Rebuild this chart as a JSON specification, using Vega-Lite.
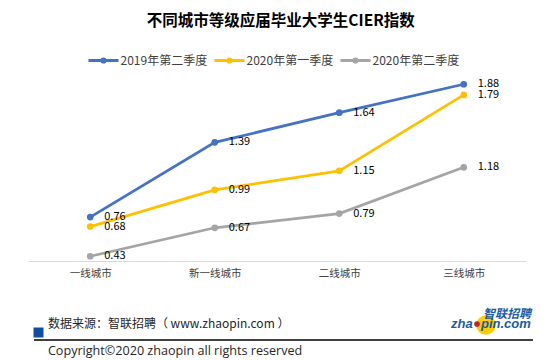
{
  "$schema": "https://vega.github.io/schema/vega-lite/v6.json",
  "padding": {"left": 28, "top": 13, "right": 0, "bottom": 0},
  "autosize": {"type": "pad"},
  "background": "white",
  "title": {"text": "不同城市等级应届毕业大学生CIER指数", "fontSize": 15.5, "font": "Noto Sans CJK SC", "fontWeight": "bold", "color": "#000000", "anchor": "middle", "offset": 25},
  "config": {"view": {"stroke": null}},
  "bounds": "flush",
  "spacing": 44,
  "vconcat": [
    {
      "width": 498,
      "height": 191,
      "data": {"values": [
        {"city": "一线城市", "series": "2019年第二季度", "value": 0.76},
        {"city": "新一线城市", "series": "2019年第二季度", "value": 1.39},
        {"city": "二线城市", "series": "2019年第二季度", "value": 1.64},
        {"city": "三线城市", "series": "2019年第二季度", "value": 1.88},
        {"city": "一线城市", "series": "2020年第一季度", "value": 0.68},
        {"city": "新一线城市", "series": "2020年第一季度", "value": 0.99},
        {"city": "二线城市", "series": "2020年第一季度", "value": 1.15},
        {"city": "三线城市", "series": "2020年第一季度", "value": 1.79},
        {"city": "一线城市", "series": "2020年第二季度", "value": 0.43},
        {"city": "新一线城市", "series": "2020年第二季度", "value": 0.67},
        {"city": "二线城市", "series": "2020年第二季度", "value": 0.79},
        {"city": "三线城市", "series": "2020年第二季度", "value": 1.18}
      ]},
      "encoding": {
        "x": {"field": "city", "type": "ordinal", "sort": ["一线城市", "新一线城市", "二线城市", "三线城市"],
              "scale": {"type": "point", "padding": 0.5},
              "axis": {"title": null, "labelAngle": 0, "ticks": false, "domainColor": "#D9D9D9", "domainWidth": 1, "labelFont": "Noto Sans CJK SC", "labelFontSize": 10.5, "labelColor": "#404040", "labelPadding": 7, "grid": false}},
        "y": {"field": "value", "type": "quantitative", "scale": {"domain": [0.39, 2.0], "zero": false, "nice": false}, "axis": null},
        "color": {"field": "series", "type": "nominal",
                  "scale": {"domain": ["2019年第二季度", "2020年第一季度", "2020年第二季度"], "range": ["#4472C4", "#FFC000", "#A5A5A5"]},
                  "legend": {"title": null, "orient": "none", "legendX": 69, "legendY": -16, "direction": "horizontal", "gridAlign": "none",
                             "symbolType": "M-3,0L3,0M-0.32,0A0.32,0.32,0,1,1,0.32,0A0.32,0.32,0,1,1,-0.32,0",
                             "symbolSize": 100, "symbolStrokeWidth": 3, "labelFontSize": 12, "labelFont": "Noto Sans CJK SC",
                             "labelColor": "#404040", "labelOffset": 10.5, "columnPadding": 0}}
      },
      "layer": [
        {"mark": {"type": "line", "strokeWidth": 2.75}},
        {"mark": {"type": "point", "filled": true, "size": 45, "opacity": 1}},
        {"mark": {"type": "text", "align": "left", "baseline": "middle", "dx": 14, "fontSize": 11, "font": "Noto Sans CJK SC"},
         "encoding": {"text": {"field": "value", "type": "quantitative", "format": ".2f"}, "color": {"value": "#000000"}}}
      ]
    },
    {
      "width": 498,
      "height": 55,
      "layer": [
        {"data": {"values": [{"item": "square"}]},
         "mark": {"type": "point", "shape": "square", "filled": true, "size": 100, "color": "#0B4EA2", "opacity": 1},
         "encoding": {"x": {"datum": 2.11, "type": "quantitative", "scale": {"domain": [0, 100], "nice": false, "zero": false}, "axis": null},
                      "y": {"datum": 5.0, "type": "quantitative", "scale": {"domain": [0, 10], "nice": false, "zero": false}, "axis": null}}},
        {"data": {"values": [{"label": "数据来源：智联招聘（ www.zhaopin.com ）"}]},
         "mark": {"type": "text", "align": "left", "baseline": "middle", "fontSize": 12, "font": "Noto Sans CJK SC", "color": "#262626"},
         "encoding": {"x": {"datum": 4.0, "type": "quantitative", "scale": {"domain": [0, 100], "nice": false, "zero": false}, "axis": null},
                      "y": {"datum": 6.55, "type": "quantitative", "scale": {"domain": [0, 10], "nice": false, "zero": false}, "axis": null},
                      "text": {"field": "label"}}},
        {"data": {"values": [{"item": "rule"}]},
         "mark": {"type": "rule", "color": "#000000", "strokeWidth": 1.3},
         "encoding": {"x": {"datum": 1.2, "type": "quantitative", "scale": {"domain": [0, 100], "nice": false, "zero": false}, "axis": null},
                      "x2": {"datum": 101.4},
                      "y": {"datum": 3.64, "type": "quantitative", "scale": {"domain": [0, 10], "nice": false, "zero": false}, "axis": null}}},
        {"data": {"values": [{"label": "Copyright©2020 zhaopin all rights reserved"}]},
         "mark": {"type": "text", "align": "left", "baseline": "middle", "fontSize": 12.6, "font": "Open Sans", "color": "#262626"},
         "encoding": {"x": {"datum": 4.0, "type": "quantitative", "scale": {"domain": [0, 100], "nice": false, "zero": false}, "axis": null},
                      "y": {"datum": 1.64, "type": "quantitative", "scale": {"domain": [0, 10], "nice": false, "zero": false}, "axis": null},
                      "text": {"field": "label"}}},
        {"data": {"values": [{"item": "logo circle"}]},
         "mark": {"type": "point", "shape": "circle", "filled": true, "size": 380, "color": "#FFCC00", "opacity": 1},
         "encoding": {"x": {"datum": 91.97, "type": "quantitative", "scale": {"domain": [0, 100], "nice": false, "zero": false}, "axis": null},
                      "y": {"datum": 6.36, "type": "quantitative", "scale": {"domain": [0, 10], "nice": false, "zero": false}, "axis": null}}},
        {"data": {"values": [{"label": "zha"}]},
         "mark": {"type": "text", "align": "left", "baseline": "middle", "fontSize": 13, "font": "Liberation Sans", "fontWeight": "bold", "fontStyle": "italic", "color": "#1A5BA6"},
         "encoding": {"x": {"datum": 84.94, "type": "quantitative", "scale": {"domain": [0, 100], "nice": false, "zero": false}, "axis": null},
                      "y": {"datum": 6.55, "type": "quantitative", "scale": {"domain": [0, 10], "nice": false, "zero": false}, "axis": null},
                      "text": {"field": "label"}}},
        {"data": {"values": [{"label": "pin.com"}]},
         "mark": {"type": "text", "align": "left", "baseline": "middle", "fontSize": 13, "font": "Liberation Sans", "fontWeight": "bold", "fontStyle": "italic", "color": "#1A5BA6"},
         "encoding": {"x": {"datum": 90.96, "type": "quantitative", "scale": {"domain": [0, 100], "nice": false, "zero": false}, "axis": null},
                      "y": {"datum": 6.55, "type": "quantitative", "scale": {"domain": [0, 10], "nice": false, "zero": false}, "axis": null},
                      "text": {"field": "label"}}},
        {"data": {"values": [{"item": "logo dot"}]},
         "mark": {"type": "point", "shape": "circle", "filled": true, "size": 32, "color": "#C8202A", "opacity": 1},
         "encoding": {"x": {"datum": 90.16, "type": "quantitative", "scale": {"domain": [0, 100], "nice": false, "zero": false}, "axis": null},
                      "y": {"datum": 6.55, "type": "quantitative", "scale": {"domain": [0, 10], "nice": false, "zero": false}, "axis": null}}},
        {"data": {"values": [{"label": "智联招聘"}]},
         "mark": {"type": "text", "align": "left", "baseline": "middle", "fontSize": 12, "font": "Noto Sans CJK SC", "fontWeight": "bold", "fontStyle": "italic", "color": "#1A5BA6"},
         "encoding": {"x": {"datum": 91.37, "type": "quantitative", "scale": {"domain": [0, 100], "nice": false, "zero": false}, "axis": null},
                      "y": {"datum": 8.36, "type": "quantitative", "scale": {"domain": [0, 10], "nice": false, "zero": false}, "axis": null},
                      "text": {"field": "label"}}}
      ]
    }
  ]
}
